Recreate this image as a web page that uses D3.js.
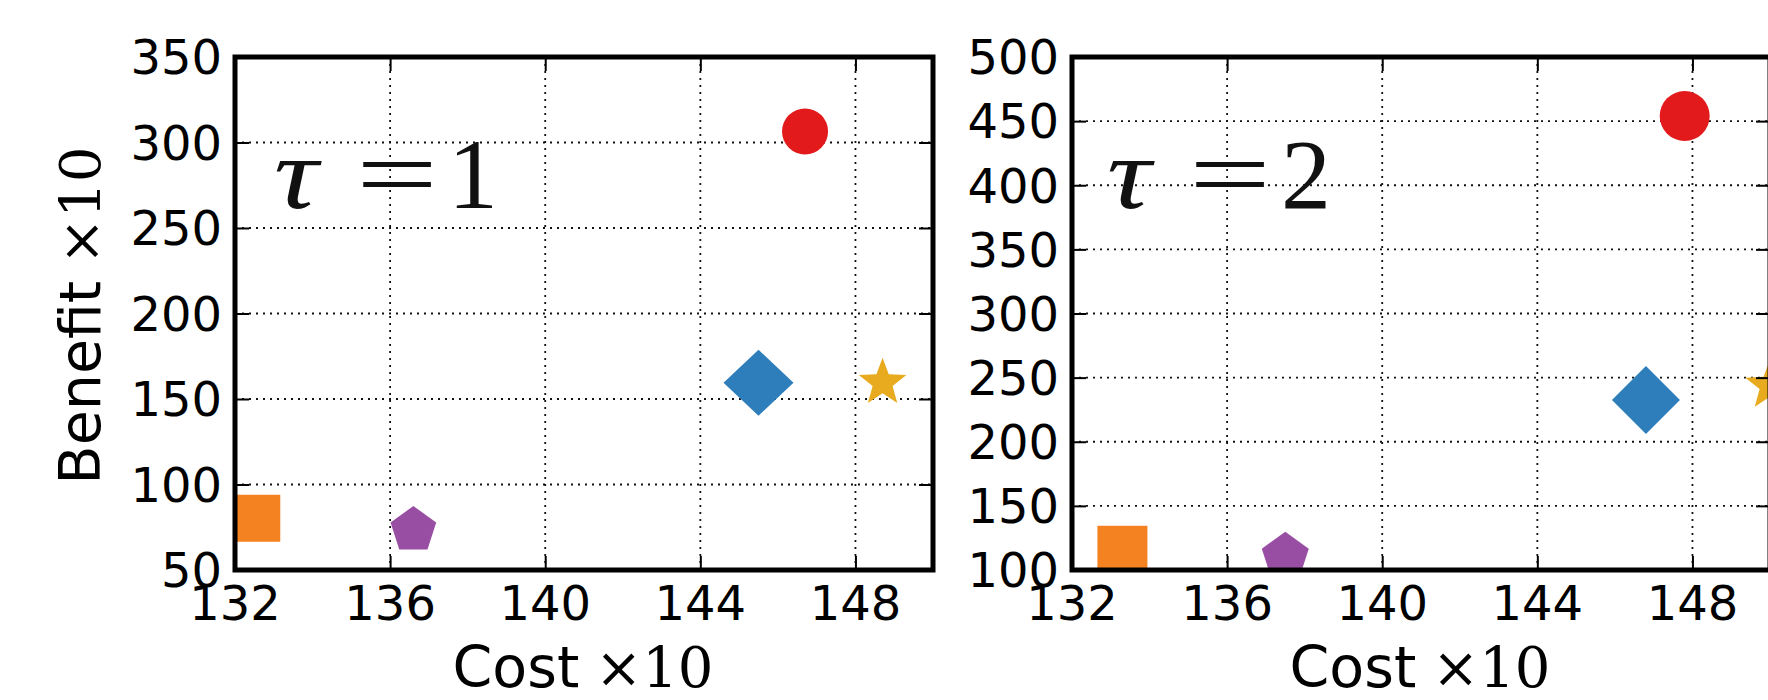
<!DOCTYPE html>
<html>
<head>
<meta charset="utf-8">
<script src="https://cdn.jsdelivr.net/npm/d3@7"></script>
<style>
  html, body { margin: 0; padding: 0; background: #fff; }
  svg { display: block; }
</style>
</head>
<body>
<svg id="chart" width="1768" height="700"></svg>
<script>
// ---------------- data ----------------
const methods = ["circle", "diamond", "star", "square", "pentagon"];
const methodColors = ["#e31a1c", "#2f7ebc", "#e8ab1f", "#f58220", "#984ea3"];
const costTicks = [132, 136, 140, 144, 148];
const costDomain = [132, 150];

const tauLabels = ["1", "2"];
const benefitTicks1 = [50, 100, 150, 200, 250, 300, 350];
const benefitTicks2 = [100, 150, 200, 250, 300, 350, 400, 450, 500];
const cost1 = [146.7, 145.5, 148.7, 132.6, 136.6];
const benefit1 = [306.5, 159.5, 159.5, 80.3, 73.4];
const cost2 = [147.8, 146.8, 150.0, 133.3, 137.5];
const benefit2 = [454, 232.5, 243.7, 115, 110.6];

// ---------------- layout / style ----------------
const svg = d3.select("#chart");
const panels = [
  { x0: 235, y0: 57, w: 698, h: 513, ticks: benefitTicks1, cost: cost1, benefit: benefit1, tau: tauLabels[0],
    sizes: { circle: 23, diamond: [35, 33], star: 25, square: [44, 47], pentagon: 24 }, tauDx: 37, ylabel: true },
  { x0: 1072, y0: 57, w: 698, h: 513, ticks: benefitTicks2, cost: cost2, benefit: benefit2, tau: tauLabels[1],
    sizes: { circle: 25, diamond: [34, 34], star: 26, square: [50, 50], pentagon: 24.7 }, tauDx: 33, ylabel: false }
];
const sansFont = "'DejaVu Sans', sans-serif";
const serifFont = "'Liberation Serif', 'DejaVu Serif', serif";
const mathFont = "'DejaVu Serif', 'Liberation Serif', serif";

function polygon(pts) { return "M" + pts.map(p => p[0].toFixed(2) + "," + p[1].toFixed(2)).join("L") + "Z"; }
function markerPath(type, s) {
  if (type === "circle") {
    return `M${-s},0A${s},${s} 0 1,0 ${s},0A${s},${s} 0 1,0 ${-s},0Z`;
  }
  if (type === "diamond") {
    return polygon([[0, -s[1]], [s[0], 0], [0, s[1]], [-s[0], 0]]);
  }
  if (type === "square") {
    return polygon([[-s[0]/2, -s[1]/2], [s[0]/2, -s[1]/2], [s[0]/2, s[1]/2], [-s[0]/2, s[1]/2]]);
  }
  if (type === "pentagon") {
    const pts = [];
    for (let i = 0; i < 5; i++) { const a = -Math.PI/2 + i * 2 * Math.PI / 5; pts.push([s * Math.cos(a), s * Math.sin(a)]); }
    return polygon(pts);
  }
  if (type === "star") {
    const pts = [], r = s * 0.42;
    for (let i = 0; i < 10; i++) { const a = -Math.PI/2 + i * Math.PI / 5; const rr = i % 2 ? r : s; pts.push([rr * Math.cos(a), rr * Math.sin(a)]); }
    return polygon(pts);
  }
}

panels.forEach((p, pi) => {
  const x = d3.scaleLinear().domain(costDomain).range([p.x0, p.x0 + p.w]);
  const y = d3.scaleLinear().domain([p.ticks[0], p.ticks[p.ticks.length - 1]]).range([p.y0 + p.h, p.y0]);
  const g = svg.append("g");

  const clipId = "clip" + pi;
  svg.append("clipPath").attr("id", clipId).append("rect")
    .attr("x", p.x0).attr("y", p.y0).attr("width", p.w).attr("height", p.h);

  // grid
  const grid = g.append("g").attr("stroke", "#111").attr("stroke-width", 1.8).attr("stroke-dasharray", "2,5");
  costTicks.filter(t => t > costDomain[0] && t < costDomain[1]).forEach(t => {
    grid.append("line").attr("x1", x(t)).attr("x2", x(t)).attr("y1", p.y0).attr("y2", p.y0 + p.h);
  });
  p.ticks.slice(1, -1).forEach(t => {
    grid.append("line").attr("x1", p.x0).attr("x2", p.x0 + p.w).attr("y1", y(t)).attr("y2", y(t));
  });

  // markers
  const mg = g.append("g").attr("clip-path", `url(#${clipId})`);
  methods.forEach((m, i) => {
    mg.append("path")
      .attr("d", markerPath(m, p.sizes[m]))
      .attr("transform", `translate(${x(p.cost[i])},${y(p.benefit[i])})`)
      .attr("fill", methodColors[i]);
  });

  // ticks (inward on all four sides) via d3 axes
  const tl = 14;
  const axB = g.append("g").attr("transform", `translate(0,${p.y0 + p.h})`)
    .call(d3.axisTop(x).tickValues(costTicks).tickSize(tl).tickFormat(""));
  const axT = g.append("g").attr("transform", `translate(0,${p.y0})`)
    .call(d3.axisBottom(x).tickValues(costTicks).tickSize(tl).tickFormat(""));
  const axL = g.append("g").attr("transform", `translate(${p.x0},0)`)
    .call(d3.axisRight(y).tickValues(p.ticks).tickSize(tl).tickFormat(""));
  const axR = g.append("g").attr("transform", `translate(${p.x0 + p.w},0)`)
    .call(d3.axisLeft(y).tickValues(p.ticks).tickSize(tl).tickFormat(""));
  [axB, axT, axL, axR].forEach(a => {
    a.select(".domain").remove();
    a.selectAll(".tick line").attr("stroke", "#000").attr("stroke-width", 2);
  });

  // spines
  g.append("rect").attr("x", p.x0).attr("y", p.y0).attr("width", p.w).attr("height", p.h)
    .attr("fill", "none").attr("stroke", "#000").attr("stroke-width", 5);

  // tick labels
  costTicks.forEach(t => {
    g.append("text").attr("x", x(t)).attr("y", p.y0 + p.h + 50)
      .attr("text-anchor", "middle").attr("font-family", sansFont).attr("font-size", 48)
      .attr("fill", "#000").text(t);
  });
  p.ticks.forEach(t => {
    g.append("text").attr("x", p.x0 - 13).attr("y", y(t)).attr("dy", "0.36em")
      .attr("text-anchor", "end").attr("font-family", sansFont).attr("font-size", 48)
      .attr("fill", "#000").text(t);
  });

  // x label
  const xl = g.append("text").attr("x", p.x0 + p.w / 2 - 1).attr("y", 687)
    .attr("text-anchor", "middle").attr("fill", "#000");
  xl.append("tspan").attr("font-family", sansFont).attr("font-size", 57).text("Cost");
  xl.append("tspan").attr("font-family", mathFont).attr("font-size", 56).attr("dx", 16).text("\u00d710");

  // y label
  if (p.ylabel) {
    const yl = g.append("text").attr("transform", `translate(100,${p.y0 + p.h / 2 + 2}) rotate(-90)`)
      .attr("text-anchor", "middle").attr("fill", "#000");
    yl.append("tspan").attr("font-family", sansFont).attr("font-size", 57).text("Benefit");
    yl.append("tspan").attr("font-family", mathFont).attr("font-size", 56).attr("dx", 16).text("\u00d710");
  }

  // tau annotation: tau, equals sign, value
  const bx = p.x0 + p.tauDx, by = p.y0 + 151;
  g.append("text").attr("x", bx + 2).attr("y", by)
    .attr("font-family", serifFont).attr("font-size", 102).attr("font-style", "italic")
    .attr("textLength", 44).attr("lengthAdjust", "spacingAndGlyphs")
    .attr("fill", "#111").text("\u03c4");
  g.append("text").attr("x", bx + 84).attr("y", by)
    .attr("font-family", serifFont).attr("font-size", 100)
    .attr("textLength", 82).attr("lengthAdjust", "spacingAndGlyphs")
    .attr("fill", "#111").text("=");
  g.append("text").attr("x", bx + 176).attr("y", by)
    .attr("font-family", serifFont).attr("font-size", 100)
    .attr("fill", "#111").text(p.tau);
});
</script>
</body>
</html>
